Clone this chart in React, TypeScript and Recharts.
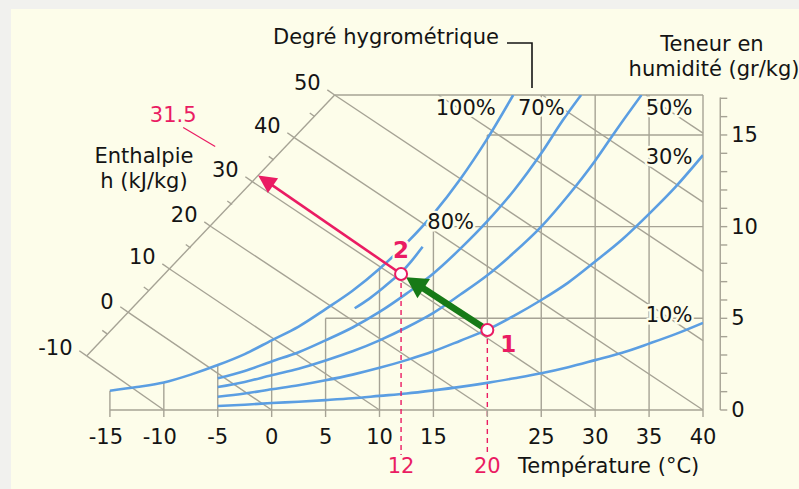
import React from 'react';
import { LineChart, Line, XAxis, YAxis, ReferenceLine, ReferenceDot } from 'recharts';

const WIDTH = 799;
const HEIGHT = 489;
const FONT = '"DejaVu Sans", Verdana, sans-serif';
const CREAM = '#fdfdea';
const GRID = '#a6a395';
const BLUE = '#5b9ee2';
const PINK = '#ea1c63';
const GREEN = '#177a17';
const INK = '#141414';

// ---- axes ----
const xTicks = [-15, -10, -5, 0, 5, 10, 15, 20, 25, 30, 35, 40];
const wTicks = [0, 1, 2, 3, 4, 5, 6, 7, 8, 9, 10, 11, 12, 13, 14, 15, 16, 17];
const wLabels = [0, 5, 10, 15];
const X_DOMAIN = [-20, 40];
const W_DOMAIN = [0, 17.18];
const RIGHT_AXIS_T = 41.6;

// ---- relative humidity curves (temperature °C / moisture g/kg) ----
const rh100T = [-15, -12.5, -10, -7.5, -5, -2.5, 0, 2.5, 5, 7.5, 10, 12.5, 15, 17.5, 20, 22.4];
const rh100W = [1.05, 1.25, 1.5, 1.93, 2.45, 3.05, 3.8, 4.55, 5.5, 6.5, 7.7, 9.1, 10.7, 12.6, 14.8, 17.18];
const rh80T = [7.7, 9, 10, 11, 12, 13, 14];
const rh80W = [5.55, 6.05, 6.5, 7.0, 7.5, 8.15, 8.9];
const rh70T = [-5, -2.5, 0, 2.5, 5, 7.5, 10, 12.5, 15, 17.5, 20, 22.5, 25, 27, 28.7];
const rh70W = [1.73, 2.13, 2.65, 3.15, 3.8, 4.5, 5.35, 6.35, 7.45, 8.8, 10.3, 12.0, 14.0, 15.8, 17.18];
const rh50T = [-5, -2.5, 0, 2.5, 5, 7.5, 10, 12.5, 15, 17.5, 20, 22.5, 25, 27.5, 30, 32, 34.3];
const rh50W = [1.25, 1.53, 1.9, 2.25, 2.7, 3.2, 3.8, 4.5, 5.3, 6.3, 7.35, 8.6, 10.0, 11.7, 13.6, 15.3, 17.18];
const rh30T = [-5, -2.5, 0, 2.5, 5, 7.5, 10, 12.5, 15, 17.5, 20, 22.5, 25, 27.5, 30, 32.5, 35, 37.5, 40];
const rh30W = [0.72, 0.9, 1.13, 1.35, 1.62, 1.93, 2.3, 2.72, 3.2, 3.78, 4.38, 5.15, 6.0, 6.95, 8.1, 9.3, 10.7, 12.2, 13.9];
const rh10T = [-5, -2.5, 0, 2.5, 5, 7.5, 10, 12.5, 15, 17.5, 20, 22.5, 25, 27.5, 30, 32.5, 35, 37.5, 40];
const rh10W = [0.22, 0.29, 0.38, 0.45, 0.54, 0.64, 0.77, 0.9, 1.07, 1.26, 1.48, 1.73, 2.0, 2.33, 2.72, 3.12, 3.62, 4.15, 4.75];

const rhLabels = ['100%', '80%', '70%', '50%', '30%', '10%'];
const rhLabelT = [18.0, 16.6, 25.0, 36.85, 36.85, 36.85];
const rhLabelW = [16.48, 10.26, 16.48, 16.48, 13.8, 5.18];

// ---- grid ----
const gridVT = [-15, -10, -5, 0, 5, 10, 15, 25, 30, 35, 40];
const gridVTop = [1.05, 1.5, 2.45, 3.8, 5, 7.7, 10, 17.18, 17.18, 17.18, 17.18];
const gridHW = [5, 10, 15, 17.18];
const gridHStart = [5, 15, 20, 5.84];

// ---- enthalpy (kJ/kg) ----
const hMajor = [-10, 0, 10, 20, 30, 40, 50];
const hAxisT = [-17.16, -13.36, -9.46, -5.57, -1.76, 2.13, 5.84];
const hAxisW = [2.95, 5.35, 7.69, 9.98, 12.44, 14.84, 17.18];
const hEndT = [-10, 0, 10, 20, 30, 40, 40];
const hEndW = [0, 0, 0, 0, 0, 0, 3.78];
const hUpperTopT = [15.47, 25.1, 34.7]; // 60, 70, 80 kJ/kg from top border
const hUpperEndW = [7.56, 11.34, 15.1];

// ---- process ----
const point1 = { T: 20, w: 4.36, name: '1' };
const point2 = { T: 12, w: 7.42, name: '2' };
const hResult = { h: '31.5', T: -1.25, w: 12.79 };
const dashBottomW = -2.45;

const pts = (T: number[], W: number[]) => T.map((t, i) => ({ T: t, w: W[i] }));

const curves = [
  { id: 'rh100', data: pts(rh100T, rh100W) },
  { id: 'rh80', data: pts(rh80T, rh80W) },
  { id: 'rh70', data: pts(rh70T, rh70W) },
  { id: 'rh50', data: pts(rh50T, rh50W) },
  { id: 'rh30', data: pts(rh30T, rh30W) },
  { id: 'rh10', data: pts(rh10T, rh10W) },
];

const maskProps = {
  paintOrder: 'stroke',
  stroke: CREAM,
  strokeWidth: 5,
  strokeLinejoin: 'round',
} as any;

const XTick = (props: any) => {
  const { x, y, payload } = props;
  const v = payload.value;
  if (v === 20) return null;
  const dx = v < -5 ? -4 : 0;
  return (
    <text x={x + dx} y={y} dy="0.71em" textAnchor="middle" fontFamily={FONT} fontSize={21} fill={INK}>
      {v}
    </text>
  );
};

const arrowShape = (color: string, width: number, headLen: number, headHalf: number, startGap: number, endGap: number) =>
  (props: any) => {
    const { x1, y1, x2, y2 } = props;
    const dx = x2 - x1;
    const dy = y2 - y1;
    const len = Math.sqrt(dx * dx + dy * dy) || 1;
    const ux = dx / len;
    const uy = dy / len;
    const sx = x1 + ux * startGap;
    const sy = y1 + uy * startGap;
    const tx = x2 - ux * endGap;
    const ty = y2 - uy * endGap;
    const bx = tx - ux * headLen;
    const by = ty - uy * headLen;
    const px = -uy;
    const py = ux;
    return (
      <g>
        <line x1={sx} y1={sy} x2={bx + ux * 2} y2={by + uy * 2} stroke={color} strokeWidth={width} />
        <polygon
          points={`${tx},${ty} ${bx + px * headHalf},${by + py * headHalf} ${bx - px * headHalf},${by - py * headHalf}`}
          fill={color}
        />
      </g>
    );
  };

export default function App() {
  const seg = (a: [number, number], b: [number, number], key: string, stroke = GRID, strokeWidth = 1.4, extra: any = {}) => (
    <ReferenceLine
      key={key}
      segment={[{ x: a[0], y: a[1] }, { x: b[0], y: b[1] }]}
      stroke={stroke}
      strokeWidth={strokeWidth}
      ifOverflow="visible"
      {...extra}
    />
  );

  const gridLines: any[] = [];
  gridVT.forEach((t, i) => gridLines.push(seg([t, 0], [t, gridVTop[i]], `gv${i}`)));
  gridLines.push(seg([20, point1.w], [20, 15], 'gv20'));
  gridHW.forEach((w, i) => gridLines.push(seg([gridHStart[i], w], [40, w], `gh${i}`)));
  gridLines.push(seg([-15, 0], [40, 0], 'xaxisline'));

  const enthalpy: any[] = [];
  hMajor.forEach((h, i) => {
    enthalpy.push(seg([hAxisT[i], hAxisW[i]], [hEndT[i], hEndW[i]], `hl${i}`));
    enthalpy.push(seg([hAxisT[i], hAxisW[i]], [hAxisT[i] - 0.68, hAxisW[i] + 0.28], `ht${i}`));
    if (i < hMajor.length - 1) {
      const mt = (hAxisT[i] + hAxisT[i + 1]) / 2;
      const mw = (hAxisW[i] + hAxisW[i + 1]) / 2;
      enthalpy.push(seg([mt, mw], [mt - 0.45, mw + 0.19], `hm${i}`));
    }
  });
  hUpperTopT.forEach((t, i) => enthalpy.push(seg([t, 17.18], [40, hUpperEndW[i]], `hu${i}`)));
  enthalpy.push(seg([hAxisT[0], hAxisW[0]], [hAxisT[hAxisT.length - 1], hAxisW[hAxisW.length - 1]], 'haxis'));

  const rightAxis: any[] = [];
  rightAxis.push(seg([RIGHT_AXIS_T, 0], [RIGHT_AXIS_T, 17.05], 'raxis'));
  wTicks.forEach((w) => rightAxis.push(seg([RIGHT_AXIS_T, w], [RIGHT_AXIS_T + 0.65, w], `rt${w}`)));

  const textStyle = { fontFamily: FONT, fontSize: 21, fill: INK };

  return (
    <div style={{ position: 'absolute', left: 0, top: 0, width: WIDTH, height: HEIGHT, background: '#f1f1ee', overflow: 'hidden' }}>
      <div style={{ position: 'absolute', left: 11, top: 9, right: 0, bottom: 0, background: CREAM }} />
      <div style={{ position: 'absolute', left: 0, top: 0 }}>
        <LineChart width={WIDTH} height={HEIGHT} margin={{ top: 95, right: 96, bottom: 0, left: 56 }}>
          <XAxis
            dataKey="T"
            type="number"
            domain={X_DOMAIN}
            allowDataOverflow
            ticks={xTicks}
            interval={0}
            height={79}
            axisLine={false}
            tickLine={{ stroke: GRID, strokeWidth: 1.4 }}
            tickSize={7}
            tickMargin={12}
            tick={XTick}
          />
          <YAxis type="number" domain={W_DOMAIN} allowDataOverflow hide />

          {gridLines}
          {enthalpy}
          {rightAxis}

          {curves.map((c) => (
            <Line
              key={c.id}
              data={c.data}
              dataKey="w"
              type="monotone"
              stroke={BLUE}
              strokeWidth={2.6}
              dot={false}
              activeDot={false}
              isAnimationActive={false}
              legendType="none"
            />
          ))}

          {/* dashed temperature markers */}
          {seg([point2.T, point2.w], [point2.T, dashBottomW], 'd2', PINK, 1.4, { strokeDasharray: '5 4' })}
          {seg([point1.T, point1.w], [point1.T, dashBottomW], 'd1', PINK, 1.4, { strokeDasharray: '5 4' })}

          {/* process arrows */}
          <ReferenceLine
            segment={[{ x: point2.T, y: point2.w }, { x: hResult.T, y: hResult.w }]}
            ifOverflow="visible"
            shape={arrowShape(PINK, 2.6, 18, 9, 6, 0)}
          />
          <ReferenceLine
            segment={[{ x: point1.T, y: point1.w }, { x: point2.T, y: point2.w }]}
            ifOverflow="visible"
            shape={arrowShape(GREEN, 6.5, 21, 11.5, 6, 6)}
          />

          {/* enthalpy labels */}
          {hMajor.map((h, i) => (
            <ReferenceDot
              key={`hlab${i}`}
              x={hAxisT[i]}
              y={hAxisW[i]}
              r={0}
              ifOverflow="visible"
              shape={(p: any) => (
                <text x={p.cx - 14} y={p.cy - (h === -10 ? 8 : h === 0 ? 10 : 12)} textAnchor="end" dominantBaseline="central" {...textStyle}>
                  {h}
                </text>
              )}
            />
          ))}

          {/* right axis labels */}
          {wLabels.map((w) => (
            <ReferenceDot
              key={`wl${w}`}
              x={RIGHT_AXIS_T}
              y={w}
              r={0}
              ifOverflow="visible"
              shape={(p: any) => (
                <text x={p.cx + 11} y={p.cy} textAnchor="start" dominantBaseline="central" {...textStyle}>
                  {w}
                </text>
              )}
            />
          ))}

          {/* humidity labels */}
          {rhLabels.map((lab, i) => (
            <ReferenceDot
              key={`rl${i}`}
              x={rhLabelT[i]}
              y={rhLabelW[i]}
              r={0}
              ifOverflow="visible"
              shape={(p: any) => (
                <text x={p.cx} y={p.cy} textAnchor="middle" dominantBaseline="central" {...textStyle} {...maskProps}>
                  {lab}
                </text>
              )}
            />
          ))}

          {/* result enthalpy label */}
          <ReferenceDot
            x={hResult.T}
            y={hResult.w}
            r={0}
            ifOverflow="visible"
            shape={(p: any) => (
              <g>
                <line x1={p.cx - 75} y1={p.cy - 48} x2={p.cx - 43} y2={p.cy - 29} stroke={PINK} strokeWidth={1.2} />
                <text x={p.cx - 85} y={p.cy - 53} textAnchor="middle" fontFamily={FONT} fontSize={21} fill={PINK}>
                  {hResult.h}
                </text>
              </g>
            )}
          />

          {/* temperature markers labels */}
          {[point2, point1].map((pt) => (
            <ReferenceDot
              key={`tl${pt.name}`}
              x={pt.T}
              y={dashBottomW}
              r={0}
              ifOverflow="visible"
              shape={(p: any) => (
                <text x={p.cx} y={p.cy + 18} textAnchor="middle" fontFamily={FONT} fontSize={21} fill={PINK}>
                  {pt.T}
                </text>
              )}
            />
          ))}

          {/* state points */}
          <ReferenceDot
            x={point2.T}
            y={point2.w}
            r={6}
            ifOverflow="visible"
            shape={(p: any) => (
              <g>
                <text x={p.cx} y={p.cy - 16} textAnchor="middle" fontFamily={FONT} fontSize={23} fontWeight="bold" fill={PINK} {...maskProps}>
                  {point2.name}
                </text>
                <circle cx={p.cx} cy={p.cy} r={6} fill="#ffffff" stroke={PINK} strokeWidth={2} />
              </g>
            )}
          />
          <ReferenceDot
            x={point1.T}
            y={point1.w}
            r={6}
            ifOverflow="visible"
            shape={(p: any) => (
              <g>
                <text x={p.cx + 13} y={p.cy + 22} textAnchor="start" fontFamily={FONT} fontSize={23} fontWeight="bold" fill={PINK}>
                  {point1.name}
                </text>
                <circle cx={p.cx} cy={p.cy} r={6} fill="#ffffff" stroke={PINK} strokeWidth={2} />
              </g>
            )}
          />

          {/* titles */}
          <text x={273} y={44} fontFamily={FONT} fontSize={21} fill={INK}>Degré hygrométrique</text>
          <path d="M507,43 L532,43 L532,88" fill="none" stroke={INK} strokeWidth={1.6} />
          <text x={712} y={51} textAnchor="middle" fontFamily={FONT} fontSize={21} fill={INK}>Teneur en</text>
          <text x={714} y={76} textAnchor="middle" fontFamily={FONT} fontSize={21} fill={INK}>humidité (gr/kg)</text>
          <text x={144} y={163} textAnchor="middle" fontFamily={FONT} fontSize={21} fill={INK}>Enthalpie</text>
          <text x={144} y={188} textAnchor="middle" fontFamily={FONT} fontSize={21} fill={INK}>h (kJ/kg)</text>
          <text x={518} y={473} fontFamily={FONT} fontSize={21} fill={INK}>Température (°C)</text>
        </LineChart>
      </div>
    </div>
  );
}
